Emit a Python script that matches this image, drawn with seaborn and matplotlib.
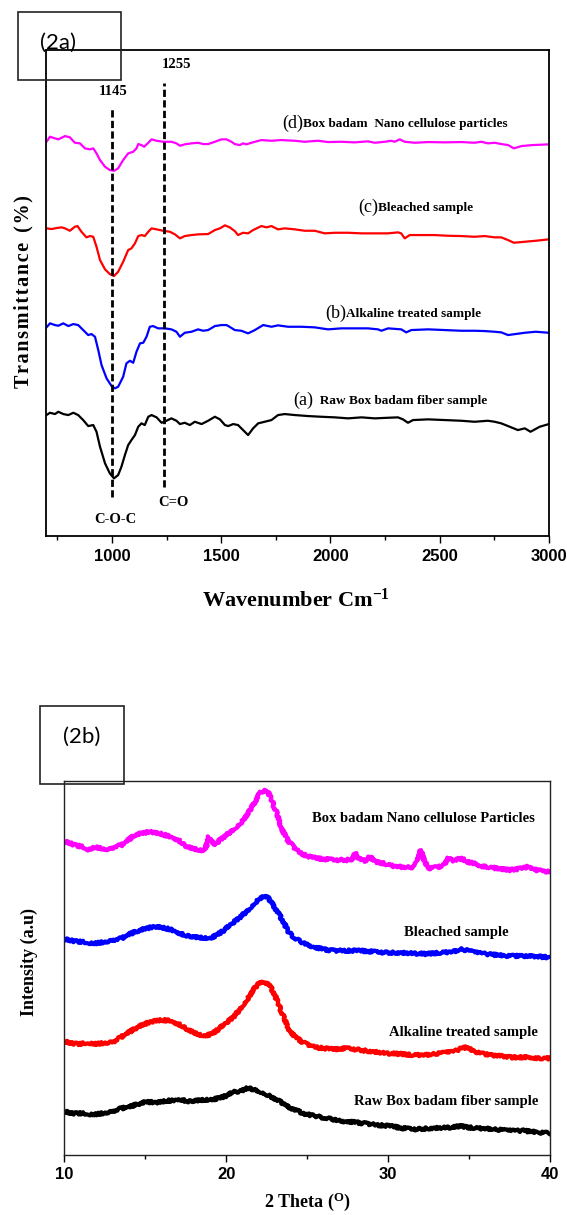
import numpy as np
import pandas as pd
import matplotlib
matplotlib.use("Agg")
import matplotlib.pyplot as plt
import seaborn as sns
from matplotlib.patches import Rectangle
from matplotlib.ticker import MultipleLocator

# ---------------- FTIR (2a) data: wavenumber (cm-1) vs transmittance (a.u.) ----------------
wn_a = [700, 716, 739, 754, 777, 800, 823, 845, 868, 891,
        914, 929, 945, 968, 990, 1009, 1028, 1043, 1059, 1074,
        1089, 1105, 1120, 1135, 1150, 1166, 1181, 1204, 1227, 1249,
        1272, 1295, 1311, 1333, 1356, 1379, 1410, 1440, 1471, 1494,
        1517, 1532, 1555, 1577, 1600, 1623, 1646, 1669, 1699, 1730,
        1760, 1791, 1837, 1898, 1958, 2020, 2081, 2142, 2203, 2264,
        2309, 2332, 2355, 2378, 2447, 2523, 2599, 2660, 2721, 2752,
        2782, 2813, 2858, 2890, 2916, 2958, 3000]
t_a = [121, 123.3, 122, 124.3, 122, 121, 123.3, 121, 116, 110,
       111, 104.3, 89.3, 72.7, 62.7, 57.7, 61, 69.3, 81, 91,
       96, 101, 109.3, 112.7, 111, 119.3, 121, 118.7, 113.3, 115.3,
       117.7, 115.3, 112, 113.3, 111, 114.3, 112, 115.3, 119.3, 116.7,
       111, 110, 112, 111, 106, 101, 107.7, 112.7, 114.3, 116,
       121, 122, 121, 120, 119.3, 118.7, 117.7, 118.7, 117.7, 118.3,
       118.7, 116.7, 113.3, 116, 116.7, 116, 115.3, 114.3, 115.3, 114.3,
       112.7, 110, 106, 107.7, 104.3, 109.3, 112]

wn_b = [700, 716, 739, 754, 777, 800, 823, 845, 868, 891,
        906, 922, 937, 952, 975, 998, 1013, 1028, 1051, 1066,
        1082, 1097, 1112, 1128, 1143, 1158, 1173, 1188, 1211, 1242,
        1272, 1295, 1311, 1333, 1364, 1394, 1417, 1440, 1471, 1501,
        1524, 1538, 1562, 1592, 1623, 1654, 1692, 1730, 1760, 1806,
        1867, 1928, 1989, 2050, 2111, 2172, 2218, 2233, 2264, 2324,
        2347, 2370, 2447, 2523, 2599, 2660, 2706, 2752, 2782, 2813,
        2890, 2940, 3000]
t_b = [208.7, 212.7, 211, 210.3, 212.7, 210, 212, 211, 206, 201,
       202, 199.3, 186, 171, 157.7, 150, 147.7, 149.3, 159.3, 172.7,
       175.3, 173.3, 184.3, 192.7, 193.3, 199.3, 209.3, 210, 207.7, 207.7,
       206.7, 204.3, 199.3, 203.3, 204.3, 206.7, 205.3, 206, 210, 211,
       211, 209.3, 206, 205.3, 202.7, 206, 211, 209.3, 210.7, 209.3,
       209.3, 208.7, 206.7, 207.7, 207.7, 207.7, 206.7, 205.3, 207.7, 206.7,
       203.7, 206, 206.7, 206, 205.3, 205.3, 205, 204.3, 203.7, 201,
       203.3, 204.3, 203.3]

wn_c = [700, 723, 746, 769, 785, 807, 830, 842, 860, 883,
        899, 914, 929, 945, 968, 990, 1009, 1028, 1051, 1074,
        1089, 1105, 1120, 1135, 1150, 1166, 1181, 1204, 1234, 1265,
        1288, 1311, 1333, 1364, 1394, 1440, 1471, 1494, 1517, 1539,
        1562, 1577, 1600, 1623, 1646, 1684, 1707, 1730, 1760, 1791,
        1837, 1882, 1928, 1974, 2020, 2081, 2142, 2203, 2264, 2309,
        2324, 2340, 2363, 2416, 2477, 2538, 2599, 2660, 2706, 2752,
        2782, 2813, 2840, 2890, 2940, 3000]
t_c = [307.7, 307, 308, 308.7, 307.7, 305.3, 309.3, 310, 304.3, 298.7,
       300, 299.3, 289.3, 276, 266.7, 262, 260, 264.3, 274.3, 286,
       287.7, 292.7, 300, 301, 300, 304.3, 307.7, 306.7, 305.3, 304.3,
       301.7, 297.7, 300, 301, 301.7, 302, 306, 307.7, 310.7, 308.7,
       305, 301, 303.3, 302.7, 306, 310, 308.7, 310, 306.7, 307.7,
       306.7, 305.3, 305.3, 302.7, 303.3, 303.3, 302.7, 302.7, 302.7, 303.7,
       302.7, 297.7, 301, 301, 301, 300.3, 300, 299.3, 300, 298.7,
       298.7, 296, 293.3, 294.3, 295.3, 296.7]

wn_d = [700, 716, 739, 754, 785, 807, 830, 853, 876, 899,
        914, 929, 945, 968, 990, 1010, 1028, 1051, 1074, 1097,
        1112, 1120, 1135, 1147, 1166, 1181, 1204, 1234, 1272, 1295,
        1311, 1333, 1364, 1394, 1417, 1440, 1471, 1501, 1524, 1547,
        1562, 1585, 1600, 1615, 1638, 1684, 1730, 1775, 1837, 1882,
        1943, 1989, 2050, 2111, 2172, 2203, 2249, 2279, 2294, 2317,
        2340, 2386, 2447, 2523, 2599, 2660, 2690, 2721, 2752, 2782,
        2813, 2840, 2875, 2925, 3000]
t_d = [394.3, 399.3, 397.7, 396.7, 400, 398.7, 393.3, 392.7, 387.7, 386.7,
       387.7, 382.7, 376, 369.3, 366, 365.3, 367.7, 376, 382.7, 384.3,
       387.7, 392, 391, 389.3, 393.3, 396.7, 395.3, 394.3, 394.3, 392.7,
       390.3, 391.7, 392.7, 393.3, 392, 392, 394.3, 396.7, 396.7, 394.3,
       392, 391, 392.7, 391.7, 393.3, 396, 395.3, 396, 395.3, 394.3,
       395.3, 394, 394.3, 393.7, 394.7, 393.3, 394.3, 395.3, 394.3, 396.7,
       394.3, 393.3, 394, 393.7, 394, 393.3, 394.3, 392.7, 393.3, 392,
       391, 387.7, 390, 391, 391.7]

ftir_tags = ["(a)", "(b)", "(c)", "(d)"]
ftir_names = ["  Raw Box badam fiber sample", "Alkaline treated sample",
              "Bleached sample", "Box badam  Nano cellulose particles"]
ftir_colors = ["#000000", "#0000FF", "#FF0000", "#FF00FF"]
ftir_ticks = [1000, 1500, 2000, 2500, 3000]
band_pos = [1000, 1240]
band_top = [429, 453]
band_bottom = [39, 49]
band_values = ["1145", "1255"]
band_groups = ["C-O-C", "C=O"]

# ---------------- XRD (2b) data: 2 theta vs intensity (a.u.) ----------------
tt_a = [10.0, 10.45, 10.96, 11.48, 11.99, 12.51, 13.02, 13.54, 14.05, 14.56,
        15.08, 15.60, 16.32, 16.63, 17.14, 17.66, 18.17, 18.68, 19.20, 19.72,
        20.13, 20.43, 20.85, 21.26, 21.67, 22.08, 22.59, 23.11, 23.32, 23.73,
        24.24, 24.86, 25.48, 26.20, 26.92, 27.64, 28.46, 29.29, 30.11, 30.93,
        31.76, 32.58, 33.40, 34.02, 34.44, 34.85, 35.67, 36.49, 37.52, 38.36,
        39.27, 40.0]
i_a = [43.3, 41.7, 41.7, 41, 40.7, 42.3, 44, 46.7, 48.3, 51,
       53.3, 52.3, 54.3, 54.3, 55.7, 53.3, 54.3, 55, 55.7, 57.7,
       60, 63.3, 63.3, 66.7, 65.7, 63.3, 60, 55, 53.3, 49,
       45, 41, 39, 36.7, 34.3, 33.3, 31.7, 30, 29, 26.7,
       25.7, 26.7, 27.3, 27.7, 29, 27.7, 26.7, 25.7, 24.3, 24.3,
       22.7, 21.7]

tt_b = [10.0, 10.45, 10.96, 11.48, 11.99, 12.51, 13.02, 13.54, 14.05, 14.56,
        15.08, 15.60, 16.01, 16.52, 17.04, 17.55, 18.07, 18.58, 19.10, 19.51,
        19.92, 20.43, 20.85, 21.26, 21.67, 21.98, 22.29, 22.59, 22.90, 23.21,
        23.52, 23.83, 24.24, 24.76, 25.37, 25.99, 26.61, 27.44, 28.26, 29.08,
        29.91, 30.73, 31.55, 32.38, 33.20, 34.02, 34.54, 34.85, 35.16, 35.67,
        36.29, 36.91, 37.52, 38.36, 39.27, 40.0]
i_b = [113.3, 111.7, 111, 112.3, 111, 112.3, 113.3, 118.3, 123.3, 128.3,
       131.7, 134.3, 135, 134.3, 131, 125.7, 121.7, 119, 121, 125.7,
       131, 137.7, 145.7, 155, 165, 171, 173.3, 171, 163.3, 151.7,
       138.3, 126.7, 118.3, 112.3, 108.3, 106.7, 105.7, 106.7, 105, 103.3,
       101.7, 101, 100, 100, 101.7, 103.3, 106.7, 107.7, 105, 101.7,
       100, 99, 97.7, 97.7, 96.7, 96.7]

tt_c = [10.0, 10.45, 10.96, 11.48, 11.99, 12.51, 13.02, 13.54, 14.05, 14.56,
        15.08, 15.60, 16.01, 16.52, 17.04, 17.55, 18.07, 18.58, 18.99, 19.41,
        19.82, 20.33, 20.85, 21.36, 21.77, 22.08, 22.35, 22.59, 22.90, 23.21,
        23.52, 23.83, 24.24, 24.76, 25.37, 25.99, 26.61, 27.44, 28.26, 29.08,
        29.91, 30.73, 31.55, 32.38, 33.20, 34.02, 34.54, 34.95, 35.47, 36.08,
        36.70, 37.52, 38.36, 39.27, 40.0]
i_c = [215.7, 214.3, 213.3, 212.3, 211.7, 213.3, 215, 216.7, 221, 224.3,
       226.7, 228.3, 227.7, 225.7, 222.3, 219, 217.7, 217, 216.7, 220,
       224.3, 231, 237.7, 245, 252.3, 256.7, 259, 256.7, 250, 241.7,
       233.3, 223.3, 216.7, 211.7, 208.3, 205.7, 204.3, 204.3, 204.3, 203.3,
       202.3, 202.3, 201.7, 201, 202.3, 203.3, 205.7, 204.3, 202.3, 201,
       200, 199, 199, 198.3, 197.7]

tt_d = [10.0, 10.24, 10.65, 11.07, 11.48, 11.89, 12.30, 12.71, 13.13, 13.54,
        13.95, 14.36, 14.77, 15.29, 15.60, 15.90, 16.21, 16.63, 17.04, 17.45,
        17.86, 18.27, 18.58, 18.79, 18.93, 19.10, 19.30, 19.61, 20.02, 20.54,
        20.95, 21.36, 21.77, 22.08, 22.29, 22.56, 22.80, 23.11, 23.35, 23.55,
        23.75, 24.04, 24.45, 24.97, 25.58, 26.20, 26.82, 27.44, 27.74, 27.95,
        28.15, 28.57, 28.88, 29.18, 29.70, 30.32, 30.93, 31.55, 31.80, 32.01,
        32.21, 32.48, 32.99, 33.40, 33.71, 34.02, 34.54, 34.85, 35.26, 35.67,
        36.29, 36.70, 37.01, 37.52, 38.36, 38.64, 38.93, 39.49, 40.0]
i_d = [313.3, 312.3, 310, 308.3, 305.7, 307.7, 306.7, 305.7, 308.3, 310,
       315, 320, 321.7, 323.3, 322.3, 321.7, 320, 317.7, 315, 309,
       306.7, 305, 304.3, 310, 318.3, 313.3, 310, 315, 320, 326.7,
       333.3, 341.7, 353.3, 361.7, 365, 363.3, 355, 341.7, 330, 322,
       316, 310, 303.3, 299, 296.7, 295.7, 295, 295, 295.7, 302.3,
       296.7, 294.3, 298.3, 293.3, 291.7, 289, 287.7, 287.7, 293.3, 305,
       295, 286.7, 287.7, 289, 296.7, 294.3, 296.7, 293.3, 291.7, 289,
       287.7, 286.7, 285.7, 285, 286.7, 289, 285.7, 284, 283.3]

xrd_names = ["Raw Box badam fiber sample", "Alkaline treated sample",
             "Bleached sample", "Box badam Nano cellulose Particles"]
xrd_colors = ["#000000", "#FF0000", "#0000FF", "#FF00FF"]
xrd_ticks = [10, 20, 30, 40]

# ---------------- style ----------------
sns.set_style("white")
plt.rcParams['font.family'] = ['Liberation Serif', 'DejaVu Serif']
plt.rcParams['text.color'] = 'black'
plt.rcParams['xtick.color'] = 'black'
plt.rcParams['xtick.labelcolor'] = 'black'
plt.rcParams['mathtext.fontset'] = 'custom'
plt.rcParams['mathtext.rm'] = 'Liberation Serif:bold'
plt.rcParams['mathtext.it'] = 'Liberation Serif:bold'
plt.rcParams['mathtext.bf'] = 'Liberation Serif:bold'

fig = plt.figure(figsize=(5.67, 12.15), dpi=100)
fig.patch.set_facecolor('white')
ax1 = fig.add_axes([0.082, 0.5588, 0.886, 0.400])
ax2 = fig.add_axes([0.1136, 0.0494, 0.8565, 0.3078])

# ---------------- FTIR panel ----------------
ftir = pd.concat([
    pd.DataFrame({'wn': w, 't': t, 'sample': n})
    for w, t, n in zip([wn_a, wn_b, wn_c, wn_d], [t_a, t_b, t_c, t_d], ftir_names)
], ignore_index=True)
sns.lineplot(data=ftir, x='wn', y='t', hue='sample', palette=dict(zip(ftir_names, ftir_colors)),
             estimator=None, sort=False, linewidth=1.6, legend=False, ax=ax1)

ax1.vlines(band_pos, band_bottom, band_top, colors='black', linewidth=2.0,
           linestyles=[(0, (2.6, 1.2))])
ax1.set_xlim(700, 3000)
ax1.set_ylim(0, 486)
ax1.set_yticks([])
ax1.set_xticks(ftir_ticks)
ax1.set_xticklabels([str(v) for v in ftir_ticks], fontfamily='Liberation Sans',
                    fontweight='bold', fontsize=12, color='black')
ax1.xaxis.set_minor_locator(MultipleLocator(250))
ax1.tick_params(axis='x', which='major', direction='out', length=5, width=1.0, pad=4,
                bottom=True, color='black')
ax1.tick_params(axis='x', which='minor', direction='out', length=3, width=1.0,
                bottom=True, color='black')
ax1.set_xlabel('')
ax1.set_ylabel('')
for s in ax1.spines.values():
    s.set_color('black')
    s.set_linewidth(1.3)

ax1.text(1003, 445, band_values[0], ha='center', va='center', fontweight='bold', fontsize=10.5)
ax1.text(1294, 472, band_values[1], ha='center', va='center', fontweight='bold', fontsize=10.5)
ax1.text(1015, 17, band_groups[0], ha='center', va='center', fontweight='bold', fontsize=10.5)
ax1.text(1280, 34, band_groups[1], ha='center', va='center', fontweight='bold', fontsize=10.5)

lab_x = [1829, 1976, 2126, 1779]
lab_y = [136, 223, 329, 413]
for tag, name, lx, ly in zip(ftir_tags, ftir_names, lab_x, lab_y):
    t1 = ax1.text(lx, ly, tag, ha='left', va='center', fontsize=13)
    ax1.annotate(name, xy=(1.0, 0.45), xycoords=t1, ha='left', va='center',
                 fontweight='bold', fontsize=9.5)

ylab = "\u200a".join("Transmittance") + "  (\u200a%\u200a)"
fig.text(23 / 567, 1 - 292 / 1215, ylab, rotation=90,
         ha='center', va='center', fontweight='bold', fontsize=14.5,
         family=['Liberation Serif', 'DejaVu Serif'])
fig.text(296 / 567, 1 - 600 / 1215, r"Wavenumber Cm$^{-1}$", ha='center', va='center',
         fontweight='bold', fontsize=16)

# ---------------- XRD panel ----------------
xrd = pd.concat([
    pd.DataFrame({'tt': x, 'i': y, 'sample': n})
    for x, y, n in zip([tt_a, tt_b, tt_c, tt_d], [i_a, i_b, i_c, i_d], xrd_names)
], ignore_index=True)
sns.lineplot(data=xrd, x='tt', y='i', hue='sample', palette=dict(zip(xrd_names, xrd_colors)),
             estimator=None, sort=False, linewidth=3.0, legend=False, ax=ax2)
for ln in ax2.lines:
    ln.set_sketch_params(scale=1.3, length=1.5, randomness=2.0)

ax2.set_xlim(10, 40)
ax2.set_ylim(0, 374)
ax2.set_yticks([])
ax2.set_xticks(xrd_ticks)
ax2.set_xticklabels([str(v) for v in xrd_ticks], fontfamily='Liberation Sans',
                    fontweight='bold', fontsize=12, color='black')
ax2.xaxis.set_minor_locator(MultipleLocator(5))
ax2.tick_params(axis='x', which='major', direction='out', length=5, width=1.0, pad=4,
                bottom=True, color='black')
ax2.tick_params(axis='x', which='minor', direction='out', length=3, width=1.0,
                bottom=True, color='black')
ax2.set_xlabel('')
ax2.set_ylabel('')
for s in ax2.spines.values():
    s.set_color('#222222')
    s.set_linewidth(1.0)

xlab_x = [39.25, 39.25, 37.46, 39.07]
xlab_y = [53, 122, 222, 336]
for name, lx, ly in zip(xrd_names, xlab_x, xlab_y):
    ax2.text(lx, ly, name, ha='right', va='center', fontweight='bold', fontsize=10.5)

fig.text(29 / 567, 1 - 962 / 1215, "Intensity (a.u)", rotation=90, ha='center', va='center',
         fontweight='bold', fontsize=13)
fig.text(307 / 567, 1 - 1202 / 1215, r"2 Theta ($^{\rm O}$)", ha='center', va='center',
         fontweight='bold', fontsize=13)

# ---------------- panel tag boxes ----------------
fig.add_artist(Rectangle((18 / 567, 1 - 80 / 1215), 103 / 567, 68 / 1215,
                         transform=fig.transFigure, fill=False, lw=1.2, ec='#222222'))
fig.text(58 / 567, 1 - 43 / 1215, "(2a)", ha='center', va='center', fontfamily='Lato',
         fontsize=16, color='black')
fig.add_artist(Rectangle((40 / 567, 1 - 784 / 1215), 84 / 567, 78 / 1215,
                         transform=fig.transFigure, fill=False, lw=1.2, ec='#222222'))
fig.text(82 / 567, 1 - 737 / 1215, "(2b)", ha='center', va='center', fontfamily='Lato',
         fontsize=16, color='black')

fig.savefig("out.png", dpi=100, facecolor='white')
